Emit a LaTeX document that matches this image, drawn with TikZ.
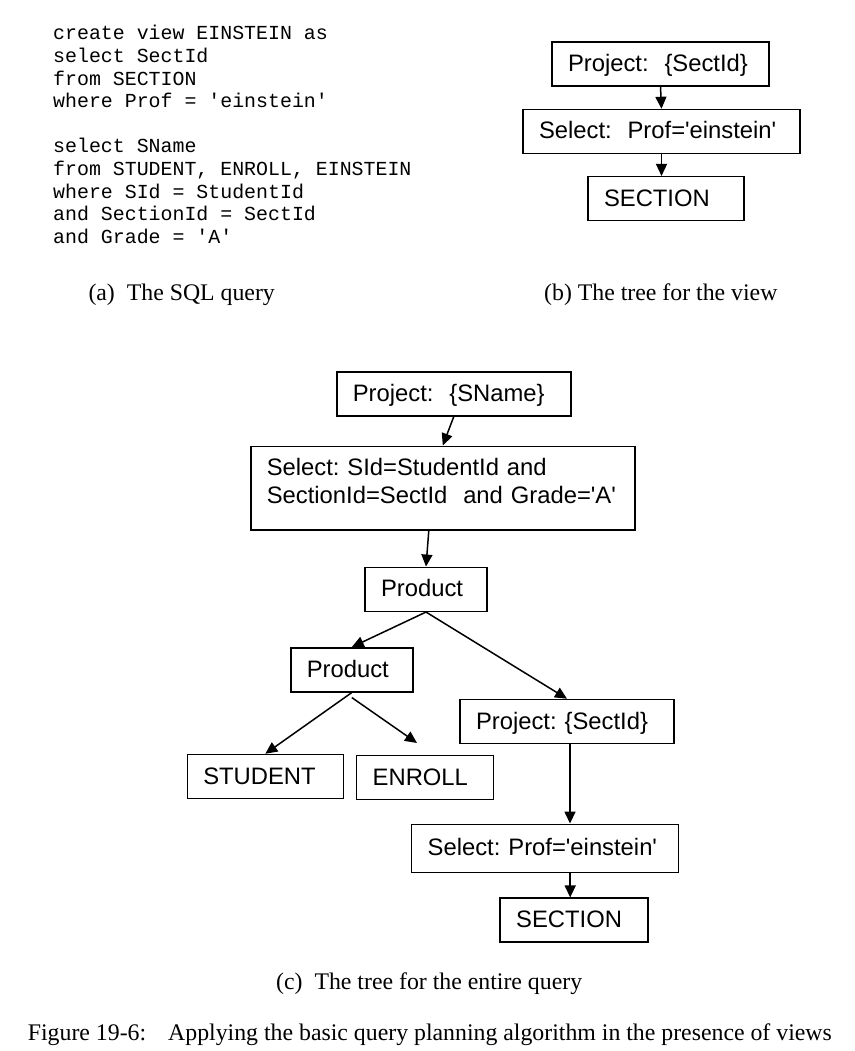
\documentclass[tikz,border=0pt]{standalone}
\usepackage{fontspec}
\setmainfont{Liberation Serif}
\setsansfont{Liberation Sans}
\setmonofont{Liberation Mono}
\usetikzlibrary{arrows.meta,positioning}

\newcommand{\sq}{\textquotesingle}
\frenchspacing

\tikzset{
  qbox/.style={draw, line width=1.5pt, inner xsep=16pt, inner ysep=0pt,
    align=left, text height=29.5pt, text depth=14.5pt,
    font=\sffamily\fontsize{23.8}{27.3}\selectfont},
  qedge/.style={-{Triangle[length=12pt,width=11pt]}, line width=1.5pt},
  captext/.style={anchor=base west, inner sep=0pt,
    font=\rmfamily\fontsize{23.8}{28}\selectfont},
  sql/.style={anchor=base west, inner sep=0pt,
    font=\ttfamily\fontsize{19.9}{22.6}\selectfont}
}

\begin{document}
\begin{tikzpicture}[x=1pt,y=-1pt]
\useasboundingbox (0,0) rectangle (854,1051);

 % SQL query
\foreach \codeline [count=\i from 0] in {create view EINSTEIN as,
    select SectId, from SECTION, where Prof = \sq einstein\sq, ,
    select SName, {from STUDENT, ENROLL, EINSTEIN}, where SId = StudentId,
    and SectionId = SectId, and Grade = \sq A\sq}
  \node[sql] (code\i) at (53,40+22.6*\i) {\codeline};

 % Tree for the view
\node[qbox, text width=185pt] (vproj) at (660.5,64) {Project:\ \ \{SectId\}};
\node[qbox, text width=245pt, below=22pt of vproj, xshift=1pt] (vsel) {Select:\ \ Prof=\sq einstein\sq};
\node[qbox, text width=124pt, below=21.7pt of vsel, xshift=4.5pt] (vsect) {SECTION};

 % Tree for the entire query
\node[qbox, text width=202pt] (proj) at (453.8,393.8) {Project:\ \ \{SName\}};
\node[qbox, text width=352pt, text depth=54pt] (sel) at (442.8,488)
  {Select: SId=StudentId and\\SectionId=SectId\ \ and Grade=\sq A\sq};
\node[qbox, text width=90pt] (prod) at (426,589.3) {Product};
\node[qbox, text width=90pt] (subprod) at (351.8,669.8) {Product};
\node[qbox, text width=182pt] (proj2) at (567,721.5) {Project: \{SectId\}};
\node[qbox, text width=124pt] (stud) at (265.3,776.5) {STUDENT};
\node[qbox, text width=104.6pt] (enr) at (425,777.5) {ENROLL};
\node[qbox, text width=234.6pt, text height=30.7pt, text depth=17.7pt] (sel2) at (545,848.5)
  {Select: Prof=\sq einstein\sq};
\node[qbox, text width=116pt] (sect) at (574.2,920.2) {SECTION};

\coordinate (enrtip) at (417,743);
\coordinate (projout) at ([xshift=3pt]proj2.south);
\coordinate (sectin) at ([xshift=-4pt]sect.north);

 % Captions
\node[captext] (capa) at (88.3,300) {(a)\ \ The SQL query};
\node[captext] (capb) at (544,300) {(b) The tree for the view};
\node[captext] (capc) at (276,989) {(c)\ \ The tree for the entire query};
\node[captext] (fig) at (27.7,1040)
  {Figure 19-6:\hspace{22pt}Applying the basic query planning algorithm in the presence of views};

% Connect nodes
\draw[qedge] (vproj.south) -- (vsel.north);
\draw[qedge] (vsel.south) -- (vsel.south |- vsect.north);
\draw[qedge] (proj.south) -- (sel.north);
\draw[qedge] ([xshift=-14pt]sel.south) -- (prod.north);
\draw[qedge] (prod.south) -- (subprod.north);
\draw[qedge] (prod.south) -- (proj2.north);
\draw[qedge] (subprod.south) -- (stud.north);
\draw[qedge] ([yshift=-5pt]subprod.south) -- (enrtip);
\draw[qedge] (projout) -- (projout |- sel2.north);
\draw[qedge] (sectin |- sel2.south) -- (sectin);

\end{tikzpicture}
\end{document}
